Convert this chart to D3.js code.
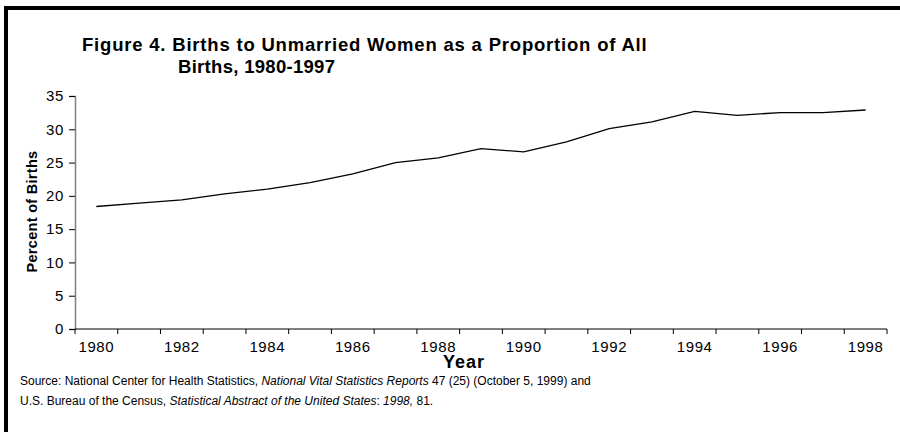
<!DOCTYPE html>
<html>
<head>
<meta charset="utf-8">
<script src="https://cdn.jsdelivr.net/npm/d3@7"></script>
<style>
  body { margin: 0; background: #fff; }
  text { font-family: Arial, "Liberation Sans", sans-serif; }
</style>
</head>
<body>
<div id="chart"></div>
<script>
var years = [1980, 1981, 1982, 1983, 1984, 1985, 1986, 1987, 1988, 1989,
             1990, 1991, 1992, 1993, 1994, 1995, 1996, 1997, 1998];
var percents = [18.4, 18.9, 19.4, 20.3, 21.0, 22.0, 23.3, 25.0, 25.7, 27.1,
                26.6, 28.1, 30.1, 31.1, 32.7, 32.1, 32.5, 32.5, 32.9];
var yTicks = [0, 5, 10, 15, 20, 25, 30, 35];
var titleLines = ["Figure 4. Births to Unmarried Women as a Proportion of All",
                  "Births, 1980-1997"];
var sourceLine1 = [
    {t: "Source:  National Center for Health Statistics, ", it: false},
    {t: "National Vital Statistics Reports", it: true},
    {t: " 47  (25) (October 5, 1999) and", it: false}
];
var sourceLine2 = [
    {t: "U.S. Bureau of the Census, ", it: false},
    {t: "Statistical Abstract of the United States", it: true},
    {t: ": ", it: false},
    {t: "1998,", it: true},
    {t: " 81.", it: false}
];

var wt = 900;
var ht = 432;
var margin = {top: 96, right: 13, bottom: 103, left: 75};
var width = wt - margin.left - margin.right;
var height = ht - margin.top - margin.bottom;

var svg = d3.select("#chart").append("svg")
    .attr("width", wt)
    .attr("height", ht);

svg.append("rect")
    .attr("width", wt)
    .attr("height", ht)
    .attr("fill", "#fff");

// frame: only top and left edges are visible
svg.append("path")
    .attr("d", "M6,440 V8 H905")
    .attr("fill", "none")
    .attr("stroke", "#000")
    .attr("stroke-width", 4);

var g = svg.append("g")
    .attr("transform", "translate(" + margin.left + "," + margin.top + ")");

var x = d3.scaleBand()
    .domain(years)
    .range([0, width]);

var y = d3.scaleLinear()
    .domain([0, 35])
    .range([height, 0]);

// y axis
var yAxis = g.append("g")
    .attr("class", "axis axis--y")
    .call(d3.axisLeft(y).tickValues(yTicks).tickSize(6).tickPadding(5));
yAxis.select(".domain").attr("stroke", "#808080").attr("stroke-width", 1.5);
yAxis.selectAll(".tick line").attr("stroke", "#000");
yAxis.selectAll("text")
    .attr("font-size", 15)
    .attr("letter-spacing", 0.6)
    .attr("fill", "#000")
    .style("font-family", "Arial, 'Liberation Sans', sans-serif");

// x axis: ticks on band edges, labels on every other band
var xAxis = g.append("g")
    .attr("class", "axis axis--x")
    .attr("transform", "translate(0," + height + ")");
xAxis.append("line")
    .attr("x1", 0)
    .attr("x2", width)
    .attr("stroke", "#000")
    .attr("stroke-width", 1);
xAxis.selectAll(".edge")
    .data(years.concat(["end"]))
    .enter().append("line")
    .attr("class", "edge")
    .attr("x1", function (d) { return d === "end" ? width : x(d); })
    .attr("x2", function (d) { return d === "end" ? width : x(d); })
    .attr("y1", 0)
    .attr("y2", 5)
    .attr("stroke", "#000");
xAxis.selectAll(".lbl")
    .data(years.filter(function (d, i) { return i % 2 === 0; }))
    .enter().append("text")
    .attr("class", "lbl")
    .attr("x", function (d) { return x(d) + x.bandwidth() / 2; })
    .attr("y", 23)
    .attr("text-anchor", "middle")
    .attr("font-size", 15)
    .attr("letter-spacing", 0.6)
    .text(function (d) { return d; });

// the line
var line = d3.line()
    .x(function (d, i) { return x(years[i]) + x.bandwidth() / 2; })
    .y(function (d) { return y(d); });

g.append("path")
    .datum(percents)
    .attr("class", "line")
    .attr("fill", "none")
    .attr("stroke", "#000")
    .attr("stroke-width", 1.3)
    .attr("d", line);

// axis titles
g.append("text")
    .attr("x", width / 2 - 17)
    .attr("y", height + 39)
    .attr("text-anchor", "middle")
    .attr("font-size", 18)
    .attr("letter-spacing", 1)
    .attr("font-weight", "bold")
    .text("Year");

svg.append("text")
    .attr("transform", "translate(37," + (margin.top + height / 2 - 1) + ") rotate(-90)")
    .attr("text-anchor", "middle")
    .attr("font-size", 14.5)
    .attr("letter-spacing", 0.3)
    .attr("font-weight", "bold")
    .text("Percent of Births");

// title
svg.append("text")
    .attr("x", 82)
    .attr("y", 51)
    .attr("font-size", 18.5)
    .attr("letter-spacing", 0.8)
    .attr("font-weight", "bold")
    .text(titleLines[0]);
svg.append("text")
    .attr("x", 178)
    .attr("y", 73)
    .attr("font-size", 18.5)
    .attr("letter-spacing", 0.3)
    .attr("font-weight", "bold")
    .text(titleLines[1]);

// source note
var src = svg.append("g").attr("font-size", 12);
[sourceLine1, sourceLine2].forEach(function (parts, i) {
    var t = src.append("text")
        .attr("x", 20)
        .attr("y", 385 + i * 20);
    parts.forEach(function (p) {
        t.append("tspan")
            .attr("font-style", p.it ? "italic" : null)
            .text(p.t);
    });
});
</script>
</body>
</html>
